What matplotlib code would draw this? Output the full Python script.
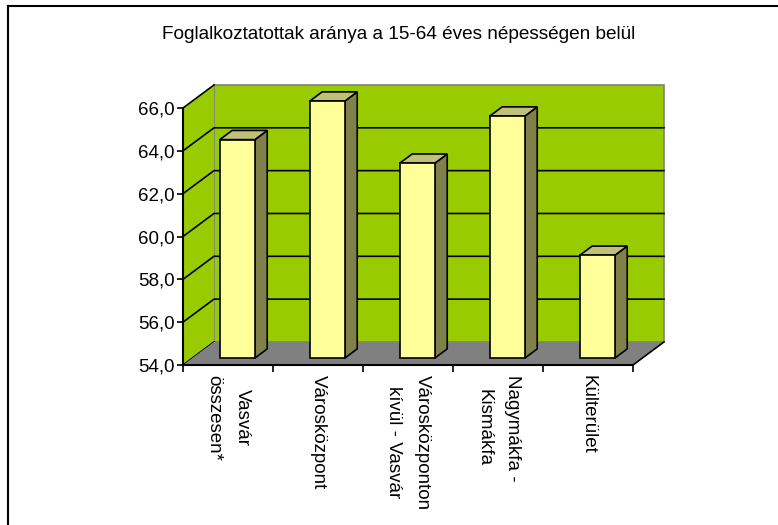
"""Foglalkoztatottak aránya - 3D-style column chart."""
import matplotlib
matplotlib.use("Agg")
import matplotlib.pyplot as plt
from matplotlib.patches import Polygon, Rectangle
from matplotlib.lines import Line2D

plt.rcParams["font.family"] = ["Liberation Sans", "DejaVu Sans"]

title = "Foglalkoztatottak aránya a 15-64 éves népességen belül"
categories = ["Vasvár\nösszesen*", "Városközpont", "Városközponton\nkívül - Vasvár",
              "Nagymákfa -\nKismákfa", "Külterület"]
values = [64.2, 66.0, 63.1, 65.3, 58.8]
y_ticks = [54, 56, 58, 60, 62, 64, 66]
y_min, y_max = 54, 66

# colours
wall = "#99CC00"
floor = "#808080"
bar_front = "#FFFF99"
bar_side = "#80804A"
bar_top = "#C0C078"

# depth offset of the back wall (data units) and bar placement in depth
dx, dy = 0.344, 1.075
f0, f1 = 0.3, 0.7
bar_w = 0.39

fig = plt.figure(figsize=(7.78, 5.25), dpi=100)
ax = fig.add_axes([183 / 778, 1 - 365 / 525, 450 / 778, 257 / 525])
n = len(categories)
ax.set_xlim(0, n)
ax.set_ylim(y_min, y_max)
ax.patch.set_visible(False)
for s in ["top", "right"]:
    ax.spines[s].set_visible(False)
for s in ["left", "bottom"]:
    ax.spines[s].set_linewidth(1.5)
    ax.spines[s].set_zorder(6)

# back wall, side wall, floor
ax.add_patch(Polygon([(dx, y_min + dy), (n + dx, y_min + dy), (n + dx, y_max + dy), (dx, y_max + dy)],
                     closed=True, facecolor=wall, edgecolor=floor, lw=1.2, clip_on=False, zorder=1))
ax.add_patch(Polygon([(0, y_min), (dx, y_min + dy), (dx, y_max + dy), (0, y_max)],
                     closed=True, facecolor=wall, edgecolor="none", clip_on=False, zorder=1))
for v in y_ticks:
    edge = v in (y_min, y_max)
    pts_x = [0, dx] if edge else [0, dx, n + dx]
    pts_y = [v, v + dy] if edge else [v, v + dy, v + dy]
    ax.add_line(Line2D(pts_x, pts_y, color="black", lw=1.2, clip_on=False, zorder=2))
ax.add_patch(Polygon([(0, y_min), (n, y_min), (n + dx, y_min + dy), (dx, y_min + dy)],
                     closed=True, facecolor=floor, edgecolor="none", clip_on=False, zorder=3))
ax.add_line(Line2D([n, n + dx], [y_min, y_min + dy], color="black", lw=1.2, clip_on=False, zorder=3))

# bars
ddx, ddy = (f1 - f0) * dx, (f1 - f0) * dy
for i, v in enumerate(values):
    xl = i + 0.5 - bar_w / 2 + f0 * dx
    xr = xl + bar_w
    yb = y_min + f0 * dy
    yt = v + f0 * dy
    ax.add_patch(Polygon([(xr, yb), (xr + ddx, yb + ddy), (xr + ddx, yt + ddy), (xr, yt)],
                         closed=True, facecolor=bar_side, edgecolor="black", lw=1.2, clip_on=False, zorder=4))
    ax.add_patch(Polygon([(xl, yt), (xr, yt), (xr + ddx, yt + ddy), (xl + ddx, yt + ddy)],
                         closed=True, facecolor=bar_top, edgecolor="black", lw=1.2, clip_on=False, zorder=4))
    ax.add_patch(Rectangle((xl, yb), bar_w, v - y_min, facecolor=bar_front, edgecolor="black",
                           lw=1.2, clip_on=False, zorder=5))

# axes ticks
ax.set_yticks(y_ticks)
ax.set_yticklabels([f"{t:.1f}".replace(".", ",") for t in y_ticks], fontsize=13.5)
ax.tick_params(axis="y", direction="out", length=4, width=1.2, pad=2)
ax.set_xticks(range(n + 1))
ax.set_xticklabels([])
ax.tick_params(axis="x", which="major", direction="out", length=5, width=1.2)
ax.set_xticks([i + 0.5 for i in range(n)], minor=True)
ax.set_xticklabels(categories, minor=True, rotation=-90, fontsize=13.5,
                   va="top", ha="center", multialignment="center", linespacing=1.85)
ax.tick_params(axis="x", which="minor", length=0, pad=7)

fig.text(398.5 / 778, 1 - 39 / 525, title, ha="center", va="baseline", fontsize=13.7)

# outer frame
fig.add_artist(Line2D([8 / 778, 1], [1 - 6 / 525, 1 - 6 / 525], color="black", lw=1.5))
fig.add_artist(Line2D([8 / 778, 8 / 778], [0, 1 - 6 / 525], color="black", lw=1.5))

fig.savefig("out.png", dpi=100)
